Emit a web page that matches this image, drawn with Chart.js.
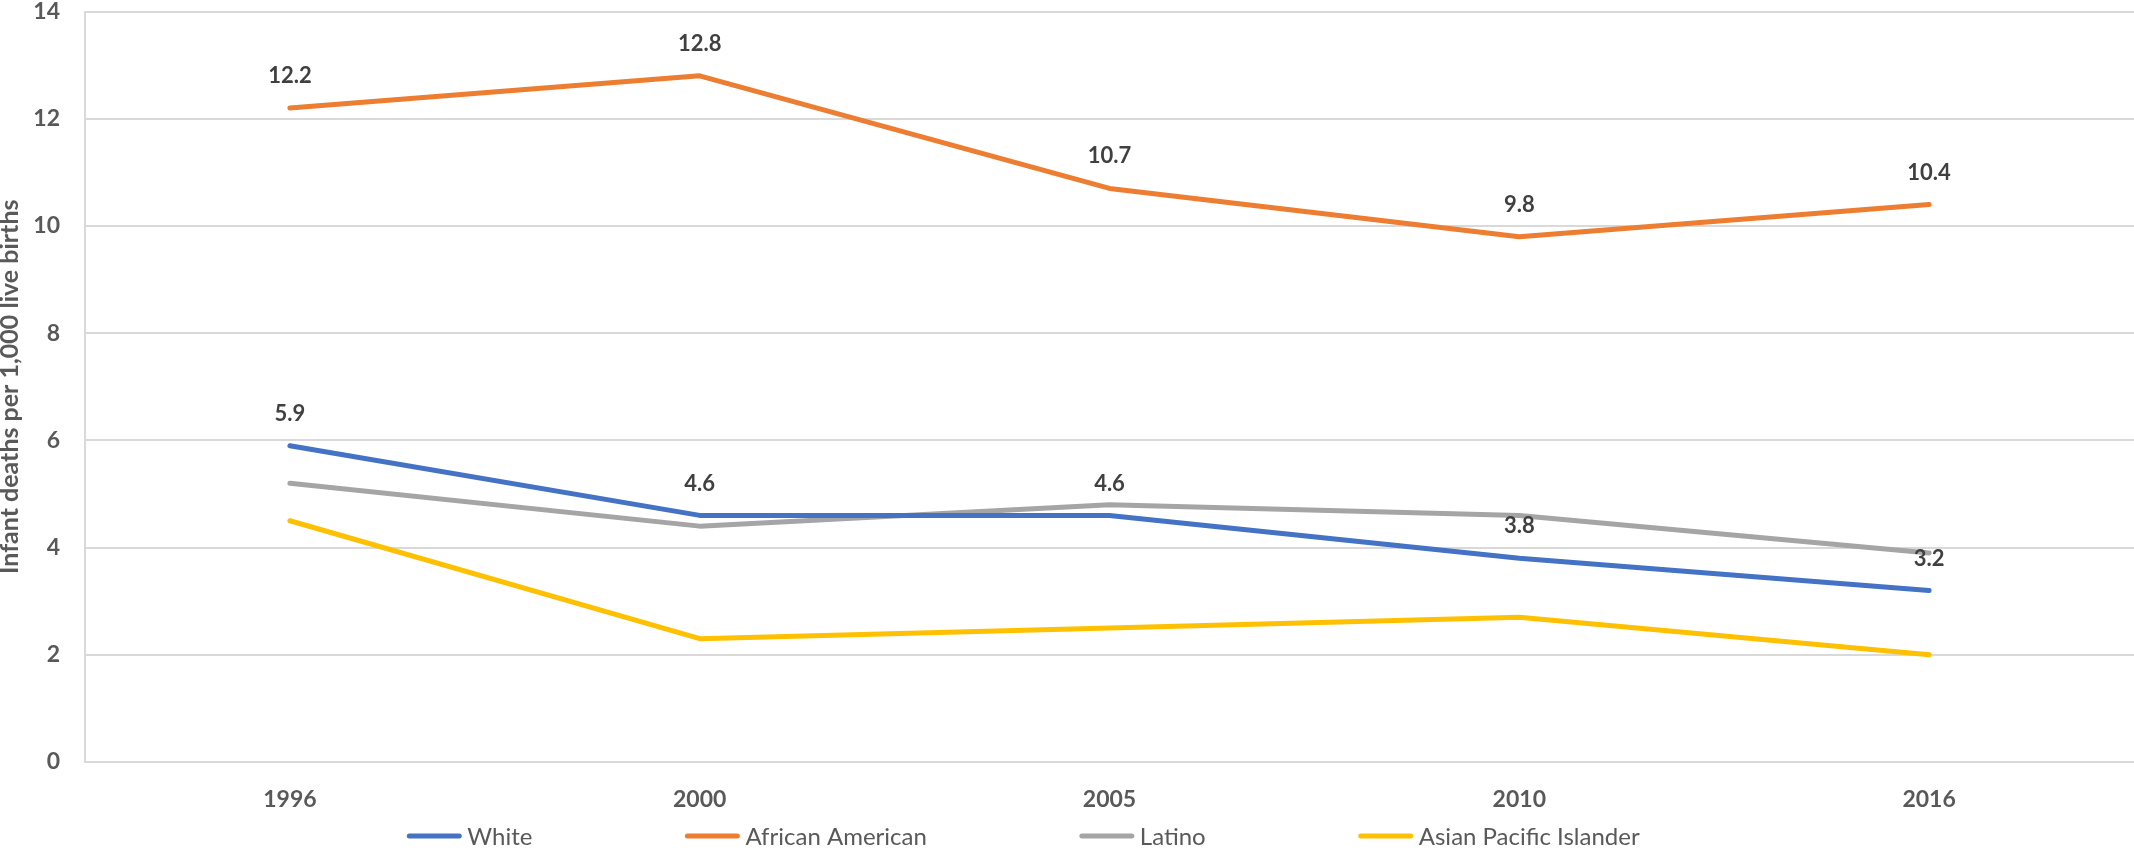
<!DOCTYPE html>
<html>
<head>
<meta charset="utf-8">
<script src="https://cdn.jsdelivr.net/npm/chart.js@4.4.1/dist/chart.umd.min.js"></script>
<style>
  body { margin: 0; background: #fff; }
  #wrap { width: 2134px; height: 851px; }
</style>
</head>
<body>
<div id="wrap"><canvas id="mortality-chart"></canvas></div>
<script>
const years = ['1996', '2000', '2005', '2010', '2016'];
const white = [5.9, 4.6, 4.6, 3.8, 3.2];
const africanAmerican = [12.2, 12.8, 10.7, 9.8, 10.4];
const latino = [5.2, 4.4, 4.8, 4.6, 3.9];
const asianPacific = [4.5, 2.3, 2.5, 2.7, 2.0];
const yTicks = [0, 2, 4, 6, 8, 10, 12, 14];

const FONT = 'Lato, "Open Sans", sans-serif';

// valeurs au-dessus des points (seulement White et African American)
const valueLabels = {
    id: 'valueLabels',
    afterDatasetsDraw(chart) {
        const ctx = chart.ctx;
        ctx.save();
        ctx.font = 'bold 22px ' + FONT;
        ctx.fillStyle = '#404040';
        ctx.textAlign = 'center';
        ctx.textBaseline = 'middle';
        chart.data.datasets.forEach((ds, i) => {
            if (!ds.showValues) return;
            chart.getDatasetMeta(i).data.forEach((pt, j) => {
                ctx.fillText(ds.data[j].toFixed(1), pt.x, pt.y - 32);
            });
        });
        ctx.restore();
    }
};

// légende façon Excel : trait court + texte, espacement fixe
const lineLegend = {
    id: 'lineLegend',
    afterDraw(chart) {
        const ctx = chart.ctx;
        const lineW = 56, gapText = 5, gapItem = 152, y = 836;
        ctx.save();
        ctx.font = '24px ' + FONT;
        const items = chart.data.datasets.map(ds => ({
            ds, w: lineW + gapText + ctx.measureText(ds.label).width
        }));
        const total = items.reduce((s, it) => s + it.w, 0) + gapItem * (items.length - 1);
        let x = 1023 - total / 2;
        items.forEach(it => {
            ctx.strokeStyle = it.ds.borderColor;
            ctx.lineWidth = 5;
            ctx.lineCap = 'round';
            ctx.beginPath();
            ctx.moveTo(x + 3, y);
            ctx.lineTo(x + lineW - 3, y);
            ctx.stroke();
            ctx.fillStyle = '#595959';
            ctx.textAlign = 'left';
            ctx.textBaseline = 'middle';
            ctx.fillText(it.ds.label, x + lineW + gapText, y + 1);
            x += it.w + gapItem;
        });
        ctx.restore();
    }
};

function makeSeries(label, data, color, showValues) {
    return {
        label: label,
        data: data,
        borderColor: color,
        backgroundColor: color,
        borderWidth: 5,
        borderCapStyle: 'round',
        borderJoinStyle: 'round',
        pointRadius: 0,
        tension: 0,
        showValues: showValues
    };
}

const ctx = document.getElementById('mortality-chart').getContext('2d');
new Chart(ctx, {
    type: 'line',
    data: {
        labels: years,
        datasets: [
            makeSeries('White', white, '#4472C4', true),
            makeSeries('African American', africanAmerican, '#ED7D31', true),
            makeSeries('Latino', latino, '#A5A5A5', false),
            makeSeries('Asian Pacific Islander', asianPacific, '#FFC000', false)
        ]
    },
    options: {
        responsive: true,
        maintainAspectRatio: false,
        animation: false,
        devicePixelRatio: 1,
        layout: { padding: 0 },
        plugins: {
            legend: { display: false },
            tooltip: { enabled: false }
        },
        scales: {
            x: {
                offset: true,
                grid: { display: false, drawTicks: false },
                border: { display: true, color: '#d9d9d9', width: 2 },
                ticks: {
                    color: '#595959',
                    font: { family: FONT, size: 23, weight: 'bold' },
                    padding: 24
                },
                afterFit(scale) { scale.height = 89; }
            },
            y: {
                min: 0,
                max: 14,
                afterBuildTicks(scale) { scale.ticks = yTicks.map(v => ({ value: v })); },
                grid: {
                    color: '#d9d9d9',
                    lineWidth: 2,
                    drawTicks: true,
                    tickLength: 25,
                    tickColor: 'rgba(0,0,0,0)'
                },
                border: { display: true, color: '#d9d9d9', width: 2 },
                ticks: {
                    color: '#595959',
                    font: { family: FONT, size: 23, weight: 'bold', lineHeight: 1 },
                    padding: 0
                },
                title: {
                    display: true,
                    text: 'Infant deaths per 1,000 live births',
                    color: '#595959',
                    font: { family: FONT, size: 25, weight: 'bold', lineHeight: 1 },
                    padding: { top: -3, bottom: 0 }
                },
                afterFit(scale) { scale.width = 85; }
            }
        }
    },
    plugins: [valueLabels, lineLegend]
});
</script>
</body>
</html>
